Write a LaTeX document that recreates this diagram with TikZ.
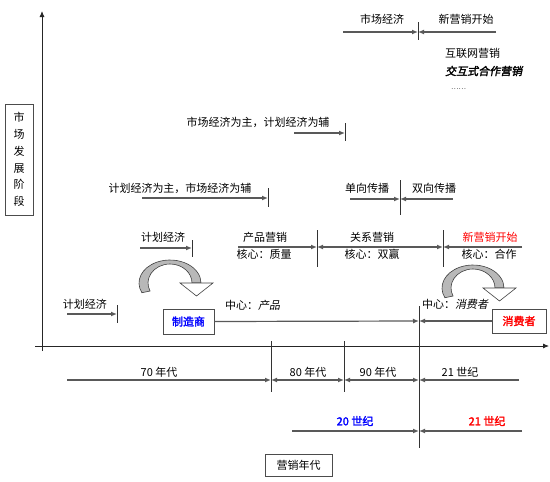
\documentclass[tikz,border=0pt]{standalone}
\usepackage{fontspec}
\setmainfont{Noto Sans CJK SC}
\newfontfamily\slantfont[FakeSlant=0.2]{Noto Sans CJK SC}
\newfontfamily\boldslantfont[FakeSlant=0.2,FakeBold=2]{Noto Sans CJK SC}
\newfontfamily\boldfont[FakeBold=2]{Noto Sans CJK SC}
\usetikzlibrary{arrows.meta}

\tikzset{
  axis/.style={draw=black!85, line width=0.8pt},
  span/.style={draw=black!65, line width=1.2pt},
  tip/.style={-{Latex[length=6pt,width=5pt]}},
  tips/.style={{Latex[length=6pt,width=5pt]}-{Latex[length=6pt,width=5pt]}},
  tickline/.style={draw=black!80, line width=0.8pt},
  framebox/.style={draw=black!70, line width=0.9pt, fill=white, inner sep=0pt},
  bendarrow/.pic={
    \fill[black!28, draw=black!75, line width=0.6pt]
      (155:31 and 23) arc[start angle=155, end angle=360, x radius=31, y radius=23]
      -- (22,0) arc[start angle=0, end angle=-205, x radius=22, y radius=19] -- cycle;
    \draw[fill=white, draw=black!75, line width=0.6pt] (10,0) -- (43,0) -- (26.5,13) -- cycle;
  }
}

\begin{document}
\begin{tikzpicture}[x=1pt, y=-1pt, font=\fontsize{11}{13}\selectfont]
  \useasboundingbox (0,0) rectangle (550,482);

  % Assen
  \coordinate (ybot) at (42,351);
  \coordinate (ytop) at (42,11);
  \coordinate (xleft) at (35,346);
  \coordinate (xright) at (549,346);
  \draw[axis, tip] (ybot) -- (ytop);
  \draw[axis, tip] (xleft) -- (xright);

  % Aslabels
  \node[framebox, minimum width=28, minimum height=111, align=center,
        font=\fontsize{11}{16.8}\selectfont] (stage) at (19,159.5) {市\\场\\发\\展\\阶\\段};
  \node[framebox, minimum width=67, minimum height=22] (era) at (298.5,465) {营销年代};

  % Markt en nieuwe marketing
  \coordinate (t1a) at (418,22);
  \coordinate (t1b) at (418,40);
  \coordinate (a1l) at (343,32);
  \coordinate (a1m) at (418,32);
  \coordinate (a1r) at (496,32);
  \draw[tickline] (t1a) -- (t1b);
  \draw[span, tip] (a1l) -- (a1m);
  \draw[span, tip] (a1r) -- (a1m);
  \node (mkt) at (382,19) {市场经济};
  \node (newtop) at (466,19) {新营销开始};
  \node[anchor=west, inner sep=0pt] (web) at (445,53) {互联网营销};
  \node[anchor=west, inner sep=0pt] (coop) at (445,71) {\boldslantfont 交互式合作营销};
  \node[anchor=west, inner sep=0pt, font=\fontsize{7}{8}\selectfont] (etc) at (451,89) {……};

  % Markteconomie als hoofdzaak
  \coordinate (t2a) at (345,123);
  \coordinate (t2b) at (345,141);
  \coordinate (a2l) at (294,133);
  \coordinate (a2r) at (345,133);
  \draw[tickline] (t2a) -- (t2b);
  \draw[span, tip] (a2l) -- (a2r);
  \node (mktmain) at (258,122) {市场经济为主，计划经济为辅};

  % Planeconomie als hoofdzaak
  \coordinate (t3a) at (268,188);
  \coordinate (t3b) at (268,207);
  \coordinate (a3l) at (142,198);
  \coordinate (a3r) at (268,198);
  \draw[tickline] (t3a) -- (t3b);
  \draw[span, tip] (a3l) -- (a3r);
  \node (planmain) at (180,188) {计划经济为主，市场经济为辅};

  % Communicatie
  \coordinate (t4a) at (400,180);
  \coordinate (t4b) at (400,215);
  \coordinate (a4l) at (350,199);
  \coordinate (a4m) at (400,199);
  \coordinate (a4r) at (453,199);
  \draw[tickline] (t4a) -- (t4b);
  \draw[span, tip] (a4l) -- (a4m);
  \draw[span, tip] (a4r) -- (a4m);
  \node (oneway) at (367,188) {单向传播};
  \node (twoway) at (434,188) {双向传播};

  % Marketingfasen
  \coordinate (t5a) at (192,240);
  \coordinate (t5b) at (192,257);
  \coordinate (t6a) at (317,230);
  \coordinate (t6b) at (317,267);
  \coordinate (t7a) at (443,230);
  \coordinate (t7b) at (443,267);
  \draw[tickline] (t5a) -- (t5b);
  \draw[tickline] (t6a) -- (t6b);
  \draw[tickline] (t7a) -- (t7b);
  \coordinate (a5l) at (140,248);
  \coordinate (a5r) at (192,248);
  \coordinate (a6l) at (238,247);
  \coordinate (a6r) at (317,247);
  \coordinate (a7r) at (443,247);
  \coordinate (a8r) at (522,247);
  \draw[span, tip] (a5l) -- (a5r);
  \draw[span, tip] (a6l) -- (a6r);
  \draw[span, tips] (a6r) -- (a7r);
  \draw[span, tip] (a8r) -- (a7r);
  \node (plan1) at (163,237) {计划经济};
  \node (prod) at (265,237) {产品营销};
  \node (prodcore) at (264,254) {核心：质量};
  \node (rel) at (372,237) {关系营销};
  \node (relcore) at (372,254) {核心：双赢};
  \node[text=red] (newmid) at (490,237) {新营销开始};
  \node (newcore) at (489,254) {核心：合作};

  % Gebogen pijlen
  \pic at (170,283) {bendarrow};
  \pic at (473,288) {bendarrow};

  % Producent en consument
  \coordinate (t8a) at (419,306);
  \coordinate (t8b) at (419,448);
  \coordinate (mid) at (419,321);
  \draw[tickline] (t8a) -- (t8b);
  \node[framebox, minimum width=51, minimum height=25, text=blue] (maker) at (188.5,321.5) {\boldfont 制造商};
  \node[framebox, minimum width=54, minimum height=24, text=red] (buyer) at (519,321) {\boldfont 消费者};
  \draw[span, tip] (maker.east) -- (mid);
  \draw[span, tip] (buyer.west) -- (mid);
  \node[anchor=west, inner sep=0pt] (prodfocus) at (225,305) {中心：{\slantfont 产品}};
  \node[anchor=west, inner sep=0pt] (buyfocus) at (422,304) {中心：{\slantfont 消费者}};

  % Planeconomie onderaan
  \coordinate (t9a) at (117,305);
  \coordinate (t9b) at (117,323);
  \coordinate (a9l) at (67,314);
  \coordinate (a9r) at (117,314);
  \draw[tickline] (t9a) -- (t9b);
  \draw[span, tip] (a9l) -- (a9r);
  \node (plan0) at (85,304) {计划经济};

  % Decennia
  \coordinate (d1a) at (271,341);
  \coordinate (d1b) at (271,392);
  \coordinate (d2a) at (344,341);
  \coordinate (d2b) at (344,392);
  \draw[tickline] (d1a) -- (d1b);
  \draw[tickline] (d2a) -- (d2b);
  \coordinate (b0) at (67,380);
  \coordinate (b1) at (271,380);
  \coordinate (b2) at (344,380);
  \coordinate (b3) at (419,380);
  \coordinate (b4) at (519,380);
  \draw[span, tip] (b0) -- (b1);
  \draw[span, tips] (b1) -- (b2);
  \draw[span, tips] (b2) -- (b3);
  \draw[span, tip] (b4) -- (b3);
  \node (s70) at (159,372) {70 年代};
  \node (s80) at (308,372) {80 年代};
  \node (s90) at (378,372) {90 年代};
  \node (c21a) at (460,372) {21 世纪};

  % Eeuwen
  \coordinate (c0) at (292,431);
  \coordinate (c1) at (419,431);
  \coordinate (c2) at (522,431);
  \draw[span, tip] (c0) -- (c1);
  \draw[span, tip] (c2) -- (c1);
  \node[text=blue] (c20) at (355,421) {\boldfont 20 世纪};
  \node[text=red] (c21) at (487,421) {\boldfont 21 世纪};
\end{tikzpicture}
\end{document}
